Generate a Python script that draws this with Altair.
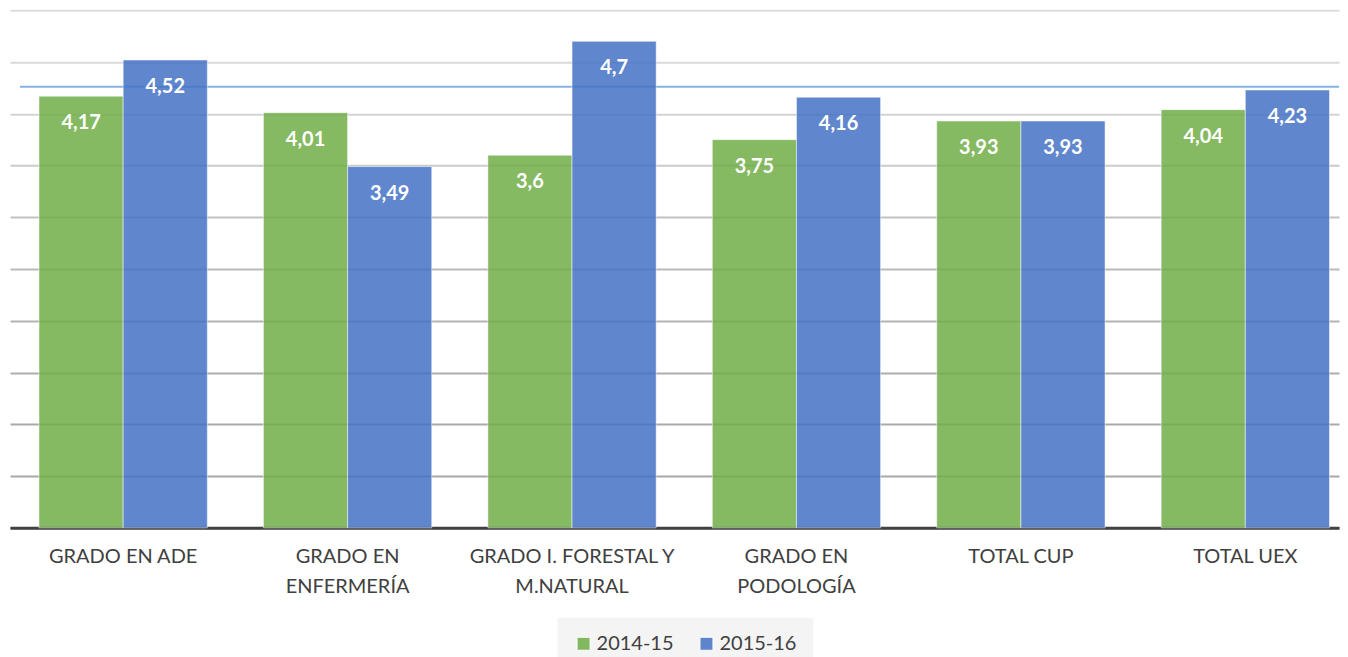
import altair as alt
import pandas as pd

categories = [
    "GRADO EN ADE",
    "GRADO EN\nENFERMERÍA",
    "GRADO I. FORESTAL Y\nM.NATURAL",
    "GRADO EN\nPODOLOGÍA",
    "TOTAL CUP",
    "TOTAL UEX",
]
series = ["2014-15", "2015-16"]
values_2014_15 = [4.17, 4.01, 3.60, 3.75, 3.93, 4.04]
values_2015_16 = [4.52, 3.49, 4.70, 4.16, 3.93, 4.23]
reference_value = [4.26]

rows = []
for cat, a, b in zip(categories, values_2014_15, values_2015_16):
    for s, v in zip(series, [a, b]):
        rows.append({"cat": cat, "serie": s, "value": v,
                     "label": f"{v:g}".replace(".", ",")})
df = pd.DataFrame(rows)
ref_df = pd.DataFrame({"ref": reference_value})

FONT = "Lato"
W, H = 1330, 518

grid_color = {
    "condition": [
        {"test": "datum.value <= 0.6", "value": "#a8a8a8"},
        {"test": "datum.value <= 1.1", "value": "#aaaaaa"},
        {"test": "datum.value <= 1.6", "value": "#adadad"},
        {"test": "datum.value <= 2.1", "value": "#b3b3b3"},
        {"test": "datum.value <= 2.6", "value": "#bababa"},
        {"test": "datum.value <= 3.1", "value": "#c2c2c2"},
        {"test": "datum.value <= 3.6", "value": "#cbcbcb"},
        {"test": "datum.value <= 4.1", "value": "#d3d3d3"},
        {"test": "datum.value <= 4.6", "value": "#d9d9d9"},
    ],
    "value": "#dedede",
}

x_enc = alt.X(
    "cat:N",
    sort=categories,
    scale=alt.Scale(paddingInner=0.25, paddingOuter=0.0858, align=0.753),
    axis=alt.Axis(
        title=None,
        labelAngle=0,
        labelExpr="split(datum.label, '\\n')",
        labelFont=FONT,
        labelFontSize=20,
        labelColor="#404040",
        labelLineHeight=30,
        labelPadding=19,
        labelLimit=400,
        ticks=False,
        domainColor="#404040",
        domainWidth=3,
        grid=False,
    ),
)
y_enc = alt.Y(
    "value:Q",
    scale=alt.Scale(domain=[0, 5], nice=False),
    axis=alt.Axis(
        title=None,
        labels=False,
        ticks=False,
        domain=False,
        tickCount=10,
        gridWidth=2,
        gridColor=grid_color,
    ),
)
color_enc = alt.Color(
    "serie:N",
    sort=series,
    scale=alt.Scale(domain=series, range=["#70AD47", "#4472C4"]),
    legend=alt.Legend(
        title=None,
        orient="none",
        legendX=548,
        legendY=608,
        direction="horizontal",
        symbolType="square",
        symbolSize=169,
        symbolOpacity=0.85,
        symbolStrokeWidth=1,
        labelFont=FONT,
        labelFontSize=20,
        labelColor="#404040",
        labelOffset=3,
        columnPadding=22,
        padding=16,
        fillColor="#f4f4f4",
    ),
)

base = alt.Chart(df)

ref = alt.Chart(ref_df).mark_rule(color="#84B2E2", strokeWidth=2).encode(
    y=alt.Y("ref:Q", scale=alt.Scale(domain=[0, 5], nice=False)),
    x=alt.value(10),
    x2=alt.value(W),
)

bars = base.mark_bar(fillOpacity=0.85, stroke="#ffffff", strokeOpacity=0.5, strokeWidth=1).encode(
    x=x_enc,
    xOffset=alt.XOffset("serie:N", sort=series),
    y=y_enc,
    color=color_enc,
)

labels = base.mark_text(
    color="white", font=FONT, fontSize=20, fontWeight="bold",
    baseline="middle", dy=27,
).encode(
    x=alt.X("cat:N", sort=categories),
    xOffset=alt.XOffset("serie:N", sort=series),
    y=alt.Y("value:Q"),
    text="label:N",
)

chart = alt.layer(ref, bars, labels).properties(
    width=W, height=H,
    background="white",
    padding={"left": 2, "top": 2, "right": 0, "bottom": 0},
).configure_view(stroke=None, strokeWidth=0)

chart.save("out.html", embed_options={"renderer": "svg", "actions": False})
